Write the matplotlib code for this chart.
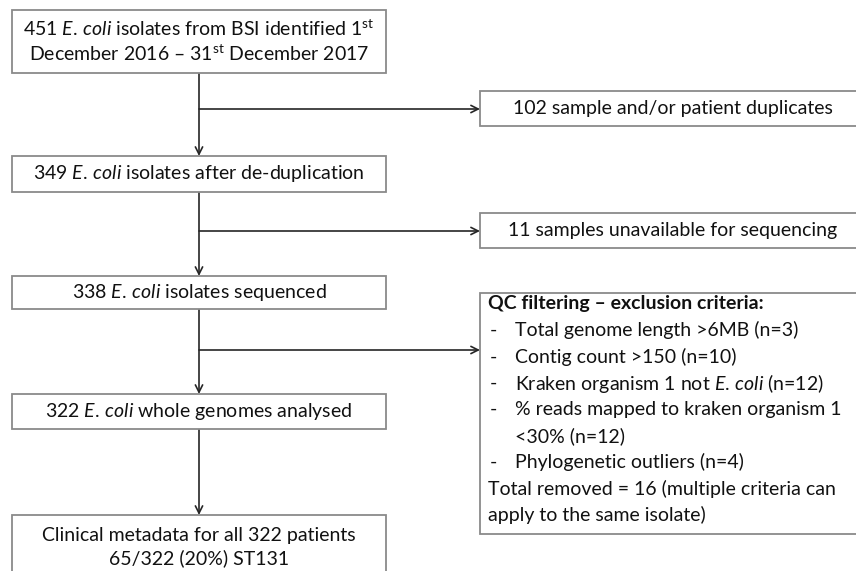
import matplotlib
matplotlib.use('Agg')
import matplotlib.pyplot as plt
from matplotlib.patches import Rectangle

plt.rcParams['font.family'] = ['Lato', 'DejaVu Sans']
plt.rcParams['mathtext.fontset'] = 'custom'
plt.rcParams['mathtext.rm'] = 'Lato'
plt.rcParams['mathtext.it'] = 'Lato:italic'
plt.rcParams['mathtext.bf'] = 'Lato:bold'

EC = r'$\mathit{E.\,coli}$'

# main flow boxes (top to bottom)
main_texts = [
    '451 ' + EC + ' isolates from BSI identified 1$^{\\mathrm{st}}$\nDecember 2016 \u2013 31$^{\\mathrm{st}}$ December 2017',
    '349 ' + EC + ' isolates after de-duplication',
    '338 ' + EC + ' isolates sequenced',
    '322 ' + EC + ' whole genomes analysed',
    'Clinical metadata for all 322 patients\n65/322 (20%) ST131',
]
# exclusion boxes on the right
excl_texts = [
    '102 sample and/or patient duplicates',
    '11 samples unavailable for sequencing',
]
qc_title = 'QC filtering \u2013 exclusion criteria:'
qc_items = [
    'Total genome length >6MB (n=3)',
    'Contig count >150 (n=10)',
    'Kraken organism 1 not ' + EC + ' (n=12)',
    '% reads mapped to kraken organism 1\n<30% (n=12)',
    'Phylogenetic outliers (n=4)',
]
qc_footer = 'Total removed = 16 (multiple criteria can\napply to the same isolate)'

# layout in pixels
main_y = [(10, 73), (156, 192), (276, 309), (394, 429), (515, 600)]
excl_y = [(91, 126), (213, 248)]
qc_y = (293, 534)
branch_y = [109, 231, 350]
LX0, LX1 = 12, 386
RX0, RX1 = 480, 866
CX = 199
FS = 14
LINE = '#262626'
EDGE = '#8a8a8a'
TXT = '#111111'

fig = plt.figure(figsize=(8.56, 5.71), dpi=100)
ax = fig.add_axes([0, 0, 1, 1])
ax.set_xlim(0, 856)
ax.set_ylim(571, 0)
ax.axis('off')


def box(x0, x1, y0, y1):
    ax.add_patch(Rectangle((x0, y0), x1 - x0, y1 - y0, fill=True, fc='white',
                           ec=EDGE, lw=1.3, zorder=2))


def arrow(x0, y0, x1, y1):
    ax.annotate('', xy=(x1, y1), xytext=(x0, y0),
                arrowprops=dict(arrowstyle='->', lw=1.2, color=LINE,
                                shrinkA=0, shrinkB=0, mutation_scale=13),
                zorder=1)


for (y0, y1), t in zip(main_y, main_texts):
    box(LX0, LX1, y0, y1)
    ym = (y0 + y1) / 2 if y1 < 571 else 547
    ax.text((LX0 + LX1) / 2, ym, t, ha='center', va='center', fontsize=FS,
            color=TXT, linespacing=1.3, zorder=3)

for (y0, y1), t in zip(excl_y, excl_texts):
    box(RX0, RX1, y0, y1)
    ax.text(673, (y0 + y1) / 2, t, ha='center', va='center', fontsize=FS,
            color=TXT, zorder=3)

# QC box
box(RX0, RX1, qc_y[0], qc_y[1])
step = 26.4
yy = 304
ax.text(488, yy, qc_title, ha='left', va='center', fontsize=FS,
        fontweight='bold', color=TXT, zorder=3)
for item in qc_items:
    for k, part in enumerate(item.split('\n')):
        yy += step
        if k == 0:
            ax.text(490, yy, '-', ha='left', va='center', fontsize=FS,
                    color=TXT, zorder=3)
        ax.text(515, yy, part, ha='left', va='center', fontsize=FS,
                color=TXT, zorder=3)
for part in qc_footer.split('\n'):
    yy += step
    ax.text(488, yy, part, ha='left', va='center', fontsize=FS,
            color=TXT, zorder=3)

# connectors
for i in range(len(main_y) - 1):
    arrow(CX, main_y[i][1], CX, main_y[i + 1][0])
for by in branch_y:
    arrow(CX, by, RX0, by)

fig.savefig('out.png', dpi=100, facecolor='white')
